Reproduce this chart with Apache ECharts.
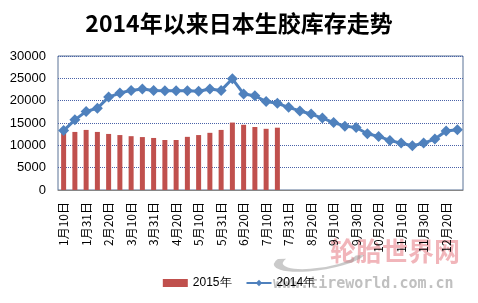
<!DOCTYPE html>
<html><head><meta charset="utf-8">
<script src="https://cdn.jsdelivr.net/npm/echarts@6/dist/echarts.min.js"></script>
<style>html,body{margin:0;padding:0;background:#fff}#c{width:478px;height:303px}</style>
</head><body><div id="c"></div>
<script>
var categories = ['1月10日','1月20日','1月31日','2月10日','2月20日','2月28日','3月10日','3月20日','3月31日','4月10日','4月20日','4月30日','5月10日','5月20日','5月31日','6月10日','6月20日','6月30日','7月10日','7月20日','7月31日','8月10日','8月20日','8月31日','9月10日','9月20日','9月30日','10月10日','10月20日','10月31日','11月10日','11月20日','11月30日','12月10日','12月20日','12月31日'];
var series2015 = [12800,13000,13450,13000,12550,12300,12050,11850,11650,11200,11200,11900,12300,12800,13450,15100,14600,14100,13700,13950];
var series2014 = [13300,15700,17600,18300,20800,21700,22300,22600,22300,22200,22200,22200,22100,22600,22300,24900,21500,21100,19800,19400,18500,17700,17000,16100,15100,14300,14000,12600,12000,11100,10500,9900,10500,11400,13200,13500];
var yTicks = [0,5000,10000,15000,20000,25000,30000];
var titleText = '2014年以来日本生胶库存走势';
var chart = echarts.init(document.getElementById('c'));
chart.setOption({
  animation:false,
  title:{text:titleText,left:'center',top:7,textStyle:{fontFamily:'Noto Sans CJK SC',fontWeight:'bold',fontSize:23,color:'#000'}},
  grid:{left:58,right:15,top:56,bottom:113,show:true,borderColor:'#5b7396',borderWidth:1,backgroundColor:'transparent'},
  graphic:[
    {type:'group',x:320,y:258,scaleY:0.26,rotation:0.15,z:-1,silent:true,children:[
      {type:'arc',shape:{cx:0,cy:0,r:42,startAngle:0.3,endAngle:3.6},style:{fill:'none',stroke:'rgba(150,150,150,0.5)',lineWidth:9}}
    ]},
    {type:'text',left:330,top:238,z:-1,silent:true,style:{text:'轮胎世界网',fill:'rgba(230,120,130,0.55)',font:'bold 26px "Noto Sans CJK SC"'}},
    {type:'text',left:273,top:277,z:-1,silent:true,style:{text:'www.tireworld.com.cn',fill:'rgba(150,150,150,0.6)',font:'bold 15px "DejaVu Sans Mono"'}}
  ],
  legend:{bottom:9,left:'center',itemGap:14,itemWidth:25,itemHeight:8,textStyle:{fontSize:12,color:'#000',fontFamily:'Liberation Sans'},
    data:[{name:'2015年',icon:'rect'},{name:'2014年'}]},
  xAxis:{type:'category',data:categories,boundaryGap:true,
    axisLine:{show:true,lineStyle:{color:'#868686'}},axisTick:{show:false},
    axisLabel:{interval:1,rotate:90,fontSize:12,color:'#000',margin:12,fontFamily:'Noto Sans CJK SC'}},
  yAxis:{type:'value',min:0,max:30000,interval:5000,
    axisLine:{show:false},axisTick:{show:false},
    splitLine:{show:true,lineStyle:{color:'#4a62a8',type:'dotted',width:1}},
    axisLabel:{fontSize:13,color:'#000',margin:12,fontFamily:'Liberation Sans',
      formatter:function(v){return yTicks.indexOf(v)>=0?String(v):'';}}},
  series:[
    {name:'2015年',type:'bar',data:series2015,barWidth:5,itemStyle:{color:'#c0504d'}},
    {name:'2014年',type:'line',data:series2014,symbol:'diamond',symbolSize:11,showAllSymbol:true,
      lineStyle:{color:'#4f81bd',width:3},itemStyle:{color:'#4f81bd'}}
  ]
});
</script></body></html>
